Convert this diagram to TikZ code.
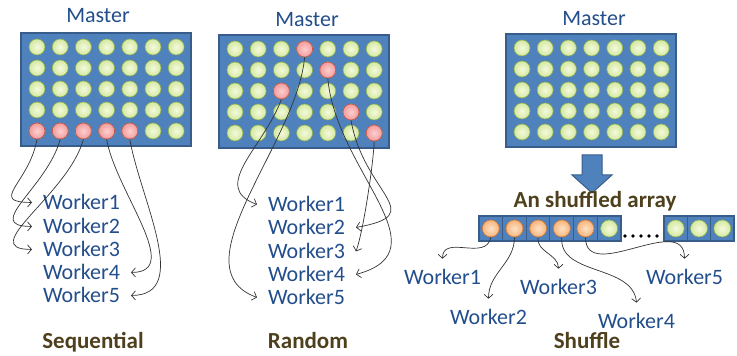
\documentclass[tikz,border=0pt]{standalone}
\usepackage{fontspec}
\setmainfont{Carlito}
\usetikzlibrary{arrows.meta}
\definecolor{boxblue}{RGB}{79,129,189}
\definecolor{boxline}{RGB}{56,93,138}
\definecolor{txtblue}{RGB}{35,78,140}
\definecolor{capbrown}{RGB}{78,64,28}
\definecolor{gin}{RGB}{244,250,222}
\definecolor{gout}{RGB}{212,232,160}
\definecolor{gline}{RGB}{140,175,80}
\definecolor{rin}{RGB}{252,208,208}
\definecolor{rout}{RGB}{244,155,155}
\definecolor{rline}{RGB}{192,80,77}
\definecolor{oin}{RGB}{253,226,200}
\definecolor{oout}{RGB}{249,180,122}
\definecolor{oline}{RGB}{210,120,50}

\begin{document}
\begin{tikzpicture}[x=1pt, y=1pt,
  panel/.style={draw=boxline, fill=boxblue, line width=1.5pt},
  cell/.style={draw=boxline, fill=boxblue, line width=1pt, minimum width=23.67pt, minimum height=25pt, inner sep=0pt, outer sep=0pt},
  gdot/.style={circle, minimum size=16pt, inner sep=0pt, draw=gline, line width=0.6pt, inner color=gin, outer color=gout},
  rdot/.style={gdot, draw=rline, inner color=rin, outer color=rout},
  odot/.style={gdot, minimum size=17pt, draw=oline, inner color=oin, outer color=oout},
  title/.style={text=txtblue, font=\fontsize{22}{26}\selectfont, anchor=base},
  worker/.style={text=txtblue, font=\fontsize{22}{26}\selectfont, inner sep=2pt, outer sep=9pt},
  caption/.style={text=capbrown, font=\bfseries\fontsize{23}{27}\selectfont, anchor=base},
  link/.style={draw=black!80, line width=0.7pt, -{Straight Barb[length=4pt,width=9pt]}}]
  \useasboundingbox (0,0) rectangle (737,356);

  % sequential
  \draw[panel] (21,210) rectangle (191,323);
  \foreach \i in {0,...,6} \foreach \j in {0,...,4}
    \node[gdot] (sq-\i-\j) at (37+23.2*\i, 309-21*\j) {};
  \foreach \i in {0,...,4} \node[rdot] (sqr\i) at (sq-\i-4) {};
  \node[title] (sqm) at (98,333) {Master};
  \foreach \k/\yy in {1/146,2/122,3/99,4/76,5/53}
    \node[worker, anchor=base west] (sqw\k) at (32,\yy) {Worker\k};
  \draw[link] (sqr0.south) to[out=-100,in=180,looseness=1.8] (sqw1.west);
  \draw[link] (sqr1.south) to[out=-105,in=180,looseness=1.4] (sqw2.west);
  \draw[link] (sqr2.south) to[out=-105,in=180,looseness=1.2] (sqw3.west);
  \draw[link] (sqr3.south) to[out=-80,in=0] (sqw4.east);
  \draw[link] (sqr4.south) to[out=-80,in=0] (sqw5.east);
  \node[caption] (sqc) at (93,7) {Sequential};

  % random
  \draw[panel] (219,208) rectangle (389,321);
  \foreach \i in {0,...,6} \foreach \j in {0,...,4}
    \node[gdot] (rd-\i-\j) at (235+23.2*\i, 307-21*\j) {};
  \foreach \i/\j in {3/0,4/1,2/2,5/3,6/4} \node[rdot] (rdr\i) at (rd-\i-\j) {};
  \node[title] (rdm) at (307,329) {Master};
  \foreach \k/\yy in {1/144,2/121,3/97,4/74,5/51}
    \node[worker, anchor=base west] (rdw\k) at (257,\yy) {Worker\k};
  \draw[link] (rdr2.south) to[out=-110,in=160,looseness=1.2] (rdw1.west);
  \draw[link] (rdr3.south) to[out=-95,in=160,looseness=0.9] (rdw5.west);
  \draw[link] (rdr5.south) to[out=-80,in=10,looseness=1.8] (rdw2.east);
  \draw[link] (rdr4.south) to[out=-85,in=15,looseness=1.2] (rdw4.east);
  \draw[link] (rdr6.south) to[out=-92,in=70,looseness=0.5] (rdw3.east);
  \node[caption] (rdc) at (308,7) {Random};

  % shuffle
  \draw[panel] (506,209) rectangle (676,322);
  \foreach \i in {0,...,6} \foreach \j in {0,...,4}
    \node[gdot] (sh-\i-\j) at (522+23.2*\i, 308-21*\j) {};
  \node[title] (shm) at (594,330) {Master};
  \draw[draw=boxline, fill=boxblue, line width=1pt] (582,201) -- (602,201) -- (602,181) -- (612,181)
    -- (592,163) -- (572,181) -- (582,181) -- cycle;
  \node[caption] (sha) at (595,148) {An shuffled array};
  \foreach \k in {0,...,5} \node[cell] (cell\k) at (490.8+23.67*\k,127.5) {};
  \foreach \k in {0,...,2} \node[cell, minimum width=23.3pt] (rc\k) at (675.7+23.3*\k,127.5) {};
  \draw[boxline, line width=1.5pt] (cell0.south west) rectangle (cell5.north east);
  \draw[boxline, line width=1.5pt] (rc0.south west) rectangle (rc2.north east);
  \foreach \k in {0,...,4} \node[odot] (sd\k) at (cell\k) {};
  \node[gdot, minimum size=17pt] (sd5) at (cell5) {};
  \foreach \k in {0,...,2} \node[gdot, minimum size=17pt] (rd\k) at (rc\k) {};
  \foreach \k in {0,...,4} \fill (625+8*\k,120) circle (1.8);
  \foreach \k/\xx/\yy in {1/442.5/71,2/488.5/31,3/558.5/61,4/636.5/27,5/684.5/71}
    \node[worker, anchor=base] (shw\k) at (\xx,\yy) {Worker\k};
  \draw[link] (sd0.south) to[out=-100,in=90,looseness=1.2] (shw1.north);
  \draw[link] (sd1.south) to[out=-90,in=90] (shw2.north);
  \draw[link] (sd2.south) to[out=-100,in=90] (shw3.north);
  \draw[link] (sd3.south) to[out=-95,in=95] (shw4.north);
  \draw[link] (sd4.south) to[out=-90,in=90,looseness=1.2] (shw5.north);
  \node[caption] (shc) at (587,7) {Shuffle};
\end{tikzpicture}
\end{document}
